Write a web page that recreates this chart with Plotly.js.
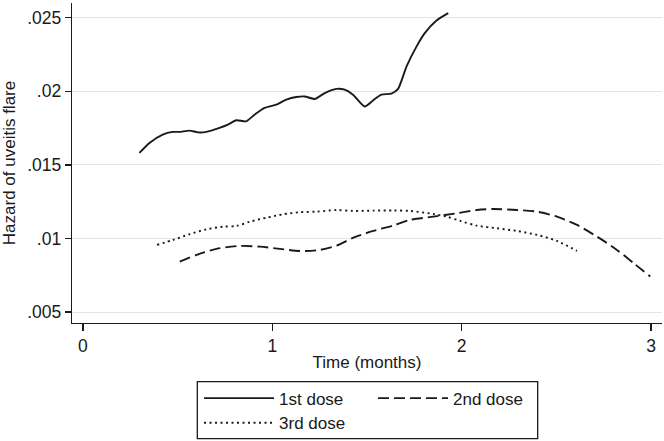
<!DOCTYPE html>
<html>
<head>
<meta charset="utf-8">
<script src="https://cdn.plot.ly/plotly-3.0.1.min.js"></script>
<style>html,body{margin:0;padding:0;background:#fff;}#chart{width:664px;height:441px;}</style>
</head>
<body>
<div id="chart"></div>
<script>
// Data
const seriesNames = ["1st dose", "2nd dose", "3rd dose"];

const dose1Time = [0.298, 0.351, 0.421, 0.474, 0.510, 0.563, 0.607, 0.651, 0.721, 0.765, 0.810, 0.862, 0.906, 0.959, 1.021, 1.074, 1.127, 1.171, 1.224, 1.277, 1.338, 1.382, 1.426, 1.488, 1.532, 1.576, 1.629, 1.664, 1.709, 1.762, 1.805, 1.867, 1.929];
const dose1Hazard = [0.01581, 0.01649, 0.01706, 0.01724, 0.01724, 0.01733, 0.01721, 0.01724, 0.01751, 0.01773, 0.01803, 0.01796, 0.01841, 0.01887, 0.01909, 0.01943, 0.01961, 0.01965, 0.01948, 0.01988, 0.02016, 0.02011, 0.01977, 0.01897, 0.01938, 0.01977, 0.01984, 0.02016, 0.02169, 0.02305, 0.02395, 0.02481, 0.02531];

const dose2Time = [0.511, 0.600, 0.705, 0.829, 0.934, 1.040, 1.146, 1.251, 1.340, 1.428, 1.533, 1.640, 1.727, 1.851, 1.974, 2.080, 2.168, 2.292, 2.398, 2.503, 2.609, 2.715, 2.820, 2.908, 2.996];
const dose2Hazard = [0.00842, 0.00888, 0.00929, 0.00949, 0.00944, 0.00929, 0.00915, 0.00922, 0.00951, 0.01005, 0.01051, 0.01088, 0.01126, 0.01148, 0.01171, 0.01193, 0.01200, 0.01193, 0.01182, 0.01148, 0.01092, 0.01012, 0.00922, 0.00832, 0.00741];

const dose3Time = [0.391, 0.476, 0.564, 0.652, 0.740, 0.811, 0.881, 0.970, 1.057, 1.146, 1.234, 1.340, 1.428, 1.533, 1.640, 1.727, 1.851, 1.921, 1.992, 2.080, 2.186, 2.292, 2.398, 2.503, 2.609];
const dose3Hazard = [0.00956, 0.00990, 0.01029, 0.01062, 0.01080, 0.01085, 0.01114, 0.01141, 0.01164, 0.01178, 0.01182, 0.01193, 0.01187, 0.01189, 0.01190, 0.01187, 0.01166, 0.01148, 0.01119, 0.01087, 0.01069, 0.01051, 0.01024, 0.00983, 0.00915];

const xTickVals = [0, 1, 2, 3];
const xTickText = ["0", "1", "2", "3"];
const yTickVals = [0.005, 0.01, 0.015, 0.02, 0.025];
const yTickText = [".005", ".01", ".015", ".02", ".025"];

const FONT = "Liberation Sans, Arial, Helvetica, sans-serif";
const INK = "#1a1a1a";
const FS = 17;
const TICKFS = 17.5;

const traces = [
  {x: dose1Time, y: dose1Hazard, name: seriesNames[0], type: "scatter", mode: "lines", legend: "legend",
   line: {color: INK, width: 1.9, shape: "spline", smoothing: 0.6}},
  {x: dose2Time, y: dose2Hazard, name: seriesNames[1], type: "scatter", mode: "lines", legend: "legend",
   line: {color: INK, width: 1.9, dash: "11px,5px", shape: "spline", smoothing: 0.8}},
  {x: dose3Time, y: dose3Hazard, name: seriesNames[2], type: "scatter", mode: "lines", legend: "legend2",
   line: {color: INK, width: 1.9, dash: "2px,3.5px", shape: "spline", smoothing: 0.8}}
];

const legendCommon = {
  orientation: "h", xanchor: "left", yanchor: "top",
  borderwidth: 0, bgcolor: "rgba(0,0,0,0)",
  itemwidth: 70, entrywidth: 89, entrywidthmode: "pixels",
  font: {family: FONT, size: FS, color: INK},
  traceorder: "normal"
};

const layout = {
  width: 664, height: 441,
  margin: {l: 72, r: 2, t: 3, b: 118, pad: 0, autoexpand: false},
  paper_bgcolor: "#ffffff", plot_bgcolor: "#ffffff",
  font: {family: FONT, size: FS, color: INK},
  showlegend: true,
  xaxis: {
    range: [-0.058, 3.058], tickvals: xTickVals, ticktext: xTickText,
    showgrid: false, zeroline: false, automargin: false,
    showline: true, linecolor: INK, linewidth: 1.3,
    ticks: "outside", ticklen: 7, tickwidth: 1.3, tickcolor: INK,
    ticklabelstandoff: 0,
    tickfont: {family: FONT, size: TICKFS, color: INK},
    title: {text: "Time (months)", font: {family: FONT, size: FS, color: INK}, standoff: 0}
  },
  yaxis: {
    range: [0.004253, 0.026], tickvals: yTickVals, ticktext: yTickText,
    showgrid: true, gridcolor: "#e3e3e3", gridwidth: 1, zeroline: false, automargin: false,
    showline: true, linecolor: INK, linewidth: 1.3,
    ticks: "outside", ticklen: 6, tickwidth: 1.3, tickcolor: INK,
    tickfont: {family: FONT, size: TICKFS, color: INK},
    title: {text: "Hazard of uveitis flare", font: {family: FONT, size: FS, color: INK}, standoff: 9}
  },
  legend: Object.assign({}, legendCommon, {x: 0.2153, y: -0.18}),
  legend2: Object.assign({}, legendCommon, {x: 0.2153, y: -0.2567}),
  shapes: [
    {type: "rect", xref: "paper", yref: "paper", x0: 0.2124, x1: 0.7893, y0: -0.1834, y1: -0.3616,
     line: {color: INK, width: 1.3}, fillcolor: "rgba(0,0,0,0)"}
  ]
};

Plotly.newPlot("chart", traces, layout, {displayModeBar: false, staticPlot: true});
</script>
</body>
</html>
